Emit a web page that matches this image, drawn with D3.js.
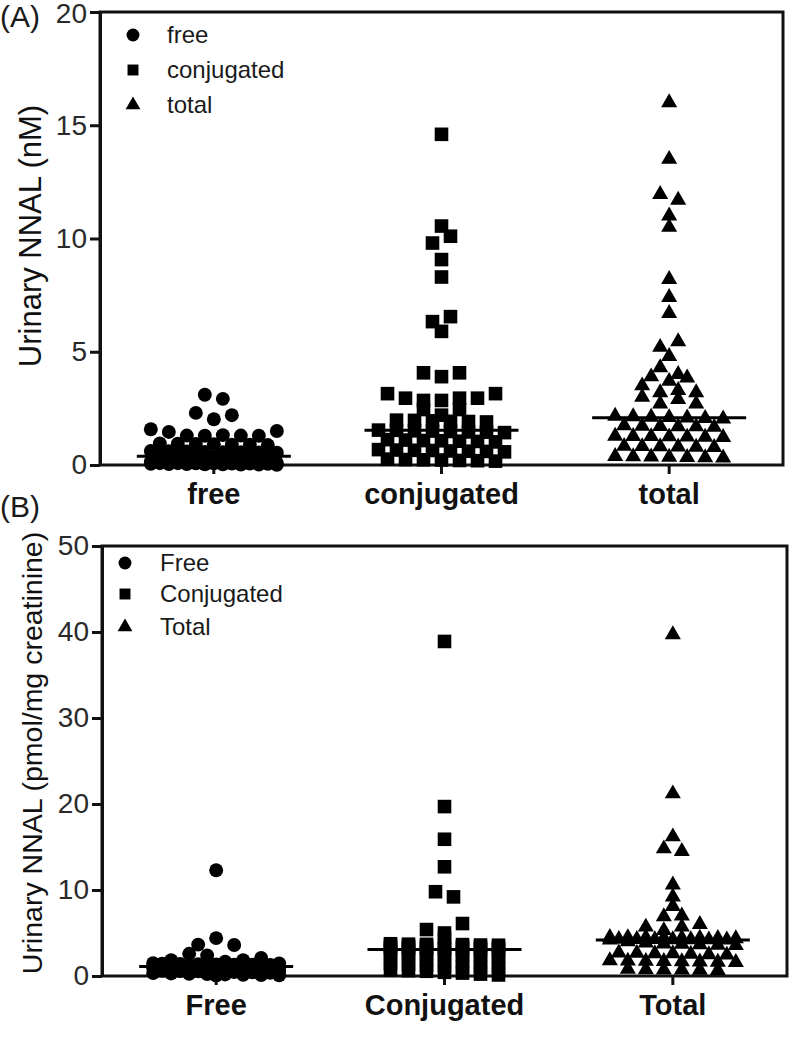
<!DOCTYPE html>
<html>
<head>
<meta charset="utf-8">
<script src="https://cdn.jsdelivr.net/npm/d3@7"></script>
<style>
  body { margin: 0; background: #fff; }
  svg { display: block; }
</style>
</head>
<body>
<svg id="chart" width="790" height="1050"></svg>
<script>
// ---------------- DATA ----------------
const categoriesA = ["free", "conjugated", "total"];
const categoriesB = ["Free", "Conjugated", "Total"];
const yTicksA = [0, 5, 10, 15, 20];
const yTicksB = [0, 10, 20, 30, 40, 50];

// Panel A: urinary NNAL (nM)
const freeA = [3.1, 2.92, 2.3, 2.02, 2.2,
  1.58, 1.46, 1.3, 1.29, 1.32, 1.3, 1.29, 1.5,
  0.95, 0.94, 0.93, 0.92, 0.9, 0.9, 0.88,
  0.62, 0.61, 0.6, 0.58, 0.57, 0.56, 0.55, 0.54,
  0.4, 0.38, 0.37, 0.35, 0.34, 0.33, 0.32,
  0.15, 0.14, 0.13, 0.12, 0.11, 0.1, 0.1, 0.09,
  0.08, 0.08, 0.07, 0.07, 0.06, 0.06, 0.05,
  0.05, 0.04, 0.04, 0.03, 0.03, 0.02, 0.02, 0.01];
const conjA = [14.6, 10.55, 9.8, 10.1, 9.07, 8.3, 6.33, 6.55, 5.9, 4.07, 3.9, 4.07,
  3.15, 2.95, 2.85, 2.85, 2.95, 2.95, 3.15, 2.45, 2.2, 2.45,
  1.98, 1.97, 1.95, 1.93, 1.92, 1.9,
  1.54, 1.53, 1.51, 1.5, 1.48, 1.46, 1.45, 1.43,
  1.12, 1.1, 1.08, 1.07, 1.05, 1.04, 1.02,
  0.68, 0.66, 0.65, 0.64, 0.62, 0.61, 0.6, 0.58,
  0.26, 0.24, 0.23, 0.22, 0.2, 0.19, 0.17];
const totalA = [16.0, 13.5, 11.95, 11.7, 11.0, 10.5, 8.2, 7.4, 6.7, 5.2, 5.45, 4.8,
  4.3, 3.5, 3.9, 3.7, 3.85, 4.0, 3.2, 3.0, 3.3, 3.2, 2.7, 2.9, 2.7,
  2.16, 2.14, 2.12, 2.1, 2.08, 2.06, 2.04,
  1.74, 1.72, 1.71, 1.7, 1.69, 1.67,
  1.28, 1.27, 1.26, 1.25, 1.24, 1.23, 1.22,
  0.83, 0.82, 0.81, 0.8, 0.79, 0.78,
  0.38, 0.37, 0.36, 0.35, 0.34, 0.33, 0.32];

// Panel B: urinary NNAL (pmol/mg creatinine)
const freeB = [12.3, 3.65, 4.4, 3.6, 1.5, 1.85, 2.58, 2.4, 1.67, 1.85, 2.1,
  1.45, 1.42, 1.4, 1.38, 1.35, 1.32, 1.3, 1.28, 1.26, 1.25, 1.23, 1.2, 1.18, 1.16,
  1.15, 1.14, 1.12, 1.11, 1.09, 1.05, 1.0, 0.97, 0.93, 0.9, 0.86, 0.82, 0.78, 0.75,
  0.7, 0.66, 0.62, 0.6, 0.58, 0.54, 0.5, 0.46, 0.42, 0.38, 0.34, 0.3, 0.26, 0.22,
  0.18, 0.15, 0.12, 0.08, 0.05];
const conjB = [38.9, 19.7, 15.9, 12.7, 9.8, 9.2, 5.4, 5.0, 6.1,
  3.75, 3.7, 3.68, 4.4, 3.65, 3.6, 3.58, 3.55, 3.5, 3.45, 3.42, 3.4, 3.35, 3.3, 3.28,
  3.25, 3.2, 3.18, 3.15, 3.12, 3.06, 2.95, 2.88, 2.74, 2.66, 2.52, 2.45, 2.31, 2.2,
  2.14, 1.98, 1.9, 1.77, 1.65, 1.58, 1.44, 1.36, 1.25, 1.12, 1.03, 0.94, 0.85, 0.71,
  0.62, 0.55, 0.43, 0.34, 0.22, 0.12];
const totalB = [39.7, 21.2, 14.8, 14.5, 16.2, 10.6, 9.2, 8.1, 6.9, 7.0,
  5.7, 5.3, 5.7, 6.0,
  4.5, 4.48, 4.46, 4.44, 4.42, 4.4, 4.38, 4.36,
  4.28, 4.26, 4.25, 4.24, 4.23, 4.22, 4.21,
  4.19, 4.0, 3.85, 3.75, 3.7, 3.65, 3.6, 3.55,
  2.7, 2.65, 2.6, 2.6, 2.55, 2.5, 2.45,
  1.8, 1.75, 1.72, 1.7, 1.68, 1.65, 1.62, 1.6,
  0.8, 0.75, 0.72, 0.7, 0.68, 0.65];

// ---------------- DRAWING ----------------
const FONT = '"Liberation Sans", Arial, Helvetica, sans-serif';
const INK = "#111";
const svg = d3.select("#chart");
const shapes = [d3.symbolCircle, d3.symbolSquare, d3.symbolTriangle];
const sizes = [152, 185, 112];

// GraphPad-like scatter layout: nearby values share a row and are spread
// horizontally; full rows alternate capacity so dense rows interleave.
function swarm(values, y, rowPx, maxPer, spacing, stagger) {
  const idx = values.map((v, i) => i).sort((a, b) => values[b] - values[a] || a - b);
  const rows = [];
  let cur = null;
  idx.forEach(i => {
    if (!cur || cur.length >= cur.cap || y(values[i]) - y(values[cur[0]]) > rowPx) {
      const cap = (stagger && cur && cur.length === maxPer) ? maxPer - 1 : maxPer;
      cur = [];
      cur.cap = cap;
      rows.push(cur);
    }
    cur.push(i);
  });
  const dx = new Array(values.length);
  rows.forEach(r => {
    r.sort((a, b) => a - b);
    const k = r.length;
    r.forEach((i, j) => { dx[i] = (j - (k - 1) / 2) * spacing; });
  });
  return dx;
}

function panel(cfg) {
  const g = svg.append("g");
  const x = d3.scaleBand().domain(cfg.categories).range([cfg.left, cfg.right]);
  const y = d3.scaleLinear().domain([0, cfg.yMax]).range([cfg.bottom, cfg.top]);
  const cx = c => x(c) + x.bandwidth() / 2;

  // frame
  g.append("rect")
    .attr("x", cfg.left).attr("y", cfg.top)
    .attr("width", cfg.right - cfg.left).attr("height", cfg.bottom - cfg.top)
    .attr("fill", "none").attr("stroke", INK).attr("stroke-width", 3);

  // y axis
  const ya = g.append("g")
    .attr("transform", `translate(${cfg.left},0)`)
    .call(d3.axisLeft(y).tickValues(cfg.yTicks).tickSize(10).tickPadding(3).tickSizeOuter(0));
  ya.attr("font-family", FONT).attr("font-size", 28);
  ya.select(".domain").attr("stroke", INK).attr("stroke-width", 3);
  ya.selectAll(".tick line").attr("stroke", INK).attr("stroke-width", 3);
  ya.selectAll(".tick text").attr("fill", "#2a2a2a")
    .attr("y", d => (y(d) - 10 < 4 ? 4 - (y(d) - 10) : 0));

  // x axis
  const xa = g.append("g")
    .attr("transform", `translate(0,${cfg.bottom})`)
    .call(d3.axisBottom(x).tickSize(9).tickSizeOuter(0));
  xa.attr("font-family", FONT).attr("font-size", 29);
  xa.select(".domain").remove();
  xa.selectAll(".tick line").attr("stroke", INK).attr("stroke-width", 3);
  xa.selectAll(".tick text").attr("y", 39).attr("dy", null)
    .attr("font-weight", "bold").attr("fill", INK);

  // points + median lines
  cfg.series.forEach((vals, s) => {
    const L = cfg.layout[s];
    const dx = swarm(vals, y, L.rowPx, L.maxPer, 18, L.stagger);
    const c = cx(cfg.categories[s]);
    g.append("g").selectAll("path").data(vals).join("path")
      .attr("d", d3.symbol().type(shapes[s]).size(sizes[s]))
      .attr("transform", (v, i) => `translate(${c + dx[i]},${y(v)})`)
      .attr("fill", "#000");
    const med = d3.median(vals);
    g.append("line")
      .attr("x1", c - 77).attr("x2", c + 77)
      .attr("y1", y(med)).attr("y2", y(med))
      .attr("stroke", "#000").attr("stroke-width", 3);
  });

  // legend
  cfg.categories.forEach((name, s) => {
    const ly = cfg.legendRows[s];
    g.append("path")
      .attr("d", d3.symbol().type(shapes[s]).size(s === 1 ? 120 : (s === 2 ? 95 : 130)))
      .attr("transform", `translate(${cfg.legendX},${ly})`)
      .attr("fill", "#000");
    g.append("text")
      .attr("x", cfg.legendTextX).attr("y", ly + 8)
      .attr("font-family", FONT).attr("font-size", 24).attr("fill", "#1a1a1a")
      .text(cfg.legendNames[s]);
  });

  // y title
  g.append("text")
    .attr("transform", `translate(${cfg.titleX},${cfg.titleY}) rotate(-90)`)
    .attr("text-anchor", "middle")
    .attr("font-family", FONT).attr("font-size", cfg.titleSize).attr("fill", "#111")
    .text(cfg.title);

  // panel letter
  g.append("text")
    .attr("x", 0).attr("y", cfg.letterY)
    .attr("font-family", FONT).attr("font-size", 30).attr("fill", "#1a1a1a")
    .text(cfg.letter);
}

panel({
  categories: categoriesA, legendNames: categoriesA,
  series: [freeA, conjA, totalA],
  layout: [
    { rowPx: 7, maxPer: 8, stagger: true },
    { rowPx: 7, maxPer: 8, stagger: true },
    { rowPx: 7, maxPer: 7, stagger: true }
  ],
  left: 100, right: 783, top: 12, bottom: 465, yMax: 20, yTicks: yTicksA,
  title: "Urinary NNAL (nM)", titleX: 41, titleY: 236, titleSize: 31,
  letter: "(A)", letterY: 27,
  legendX: 133, legendTextX: 167, legendRows: [35, 70, 105]
});

panel({
  categories: categoriesB, legendNames: categoriesB,
  series: [freeB, conjB, totalB],
  layout: [
    { rowPx: 10, maxPer: 8, stagger: true },
    { rowPx: 10, maxPer: 7, stagger: false },
    { rowPx: 7, maxPer: 8, stagger: true }
  ],
  left: 102, right: 787, top: 546, bottom: 976, yMax: 50, yTicks: yTicksB,
  title: "Urinary NNAL (pmol/mg creatinine)", titleX: 42, titleY: 753, titleSize: 28.5,
  letter: "(B)", letterY: 517,
  legendX: 125, legendTextX: 160, legendRows: [563, 594, 627]
});
</script>
</body>
</html>
